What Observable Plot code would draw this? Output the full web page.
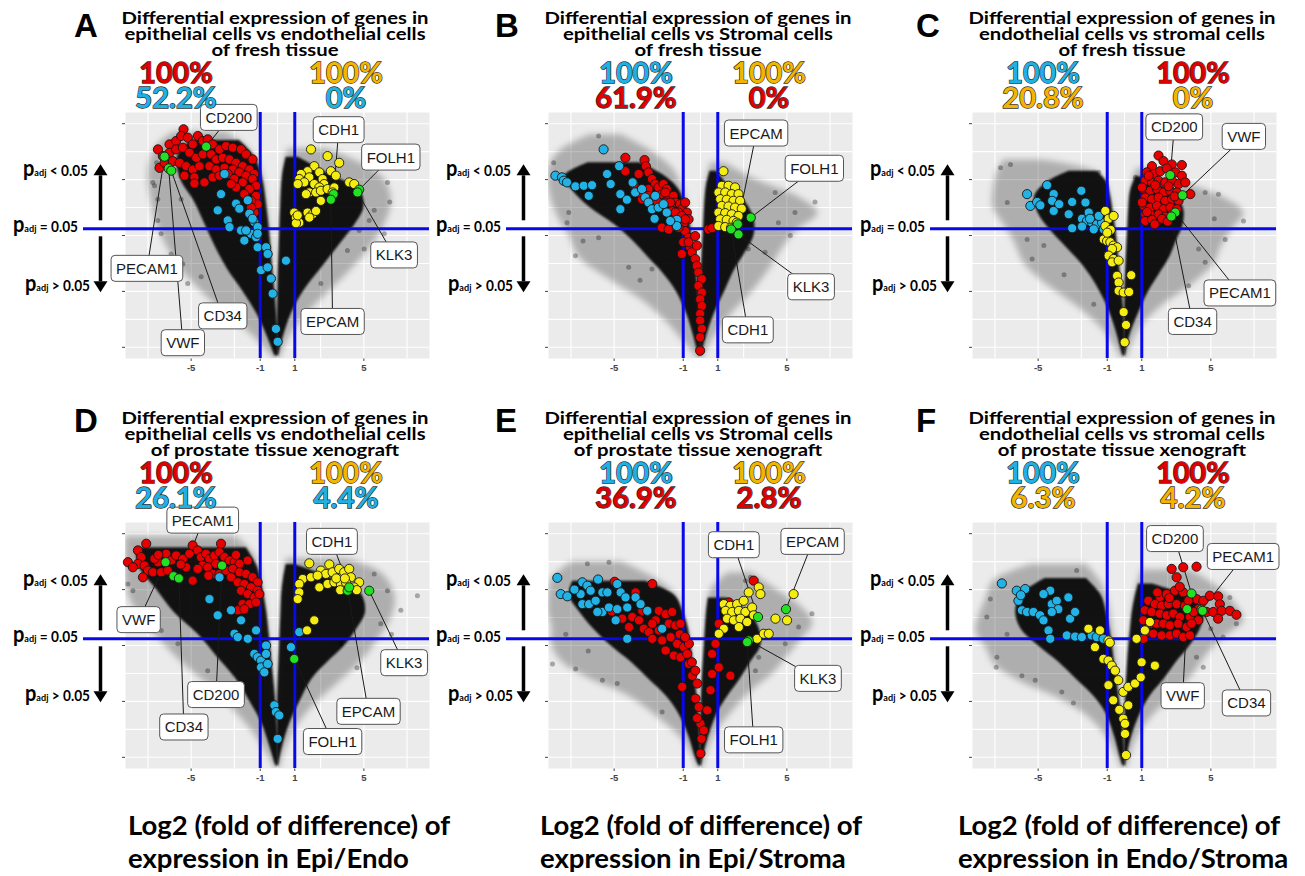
<!DOCTYPE html>
<html><head><meta charset="utf-8">
<script src="https://cdn.jsdelivr.net/npm/d3@7"></script>
<script src="https://cdn.jsdelivr.net/npm/@observablehq/plot@0.6"></script>
<style>
html,body{margin:0;padding:0;background:#fff;}
#root{position:relative;width:1305px;height:876px;overflow:hidden;background:#fff;}
.panel{position:absolute;}
</style></head><body><div id="root"></div>
<script>
// ---------------- DATA ----------------
const panelIds = ["A","B","C","D","E","F"];
const titles = [
  ["Differential expression of genes in","epithelial cells vs endothelial cells","of fresh tissue"],
  ["Differential expression of genes in","epithelial cells vs Stromal cells","of fresh tissue"],
  ["Differential expression of genes in","endothelial cells vs stromal cells","of fresh tissue"],
  ["Differential expression of genes in","epithelial cells vs endothelial cells","of prostate tissue xenograft"],
  ["Differential expression of genes in","epithelial cells vs Stromal cells","of prostate tissue xenograft"],
  ["Differential expression of genes in","endothelial cells vs stromal cells","of prostate tissue xenograft"]
];
// [text, group] ; left pair then right pair
const pctLeft = [
  [["100%","red"],["52.2%","blue"]],
  [["100%","blue"],["61.9%","red"]],
  [["100%","blue"],["20.8%","gold"]],
  [["100%","red"],["26.1%","blue"]],
  [["100%","blue"],["36.9%","red"]],
  [["100%","blue"],["6.3%","gold"]]
];
const pctRight = [
  [["100%","gold"],["0%","blue"]],
  [["100%","gold"],["0%","red"]],
  [["100%","red"],["0%","gold"]],
  [["100%","gold"],["4.4%","blue"]],
  [["100%","gold"],["2.8%","red"]],
  [["100%","red"],["4.2%","gold"]]
];
const captions = [
  ["Log2 (fold of difference) of","expression in Epi/Endo"],
  ["Log2 (fold of difference) of","expression in Epi/Stroma"],
  ["Log2 (fold of difference) of","expression in Endo/Stroma"]
];
const padjTexts = ["< 0.05","= 0.05","> 0.05"];
const xTicks = [-5,-1,1,5];
const yTicks = [0,1,2,3,4];
const gridX = [-7.5,-5,-2.5,0,2.5,5,7.5];
const gridY = [0,0.5,1,1.5,2,2.5,3,3.5,4];
const PADJ = 2.12;
const XDOM = [-8.8, 8.8];
const YDOM = [-0.2, 4.2];

// cloud envelopes: [y, xLeft, xRight]
const A_lo = [[3.85,-6.0,-3.0],[3.6,-7.0,-1.8],[3.3,-7.4,-1.1],[3.0,-7.5,-0.8],[2.6,-7.3,-0.6],[2.2,-7.0,-0.45],[1.8,-6.4,-0.35],[1.4,-5.6,-0.25],[1.0,-4.4,-0.12],[0.6,-3.0,-0.02],[0.2,-1.4,0.02],[-0.2,-0.2,0.05]];
const A_lc = [[3.7,-5.0,-2.2],[3.4,-5.8,-1.3],[3.0,-5.6,-0.85],[2.6,-4.8,-0.65],[2.2,-4.2,-0.5],[1.8,-3.6,-0.38],[1.4,-2.9,-0.28],[1.0,-2.0,-0.15],[0.6,-1.2,-0.05],[0.2,-0.6,0.03],[-0.15,-0.15,0.05]];
const A_ro = [[3.55,0.6,2.8],[3.3,0.4,4.8],[3.0,0.3,6.2],[2.6,0.2,6.6],[2.2,0.15,6.2],[1.8,0.1,5.4],[1.4,0.05,4.3],[1.0,0.0,3.0],[0.6,-0.02,1.7],[0.2,-0.05,0.7],[-0.2,-0.05,0.1]];
const A_rc = [[3.4,0.5,1.2],[3.1,0.3,3.0],[2.8,0.22,4.8],[2.5,0.18,5.0],[2.2,0.14,4.5],[1.8,0.1,3.5],[1.4,0.05,2.5],[1.0,0.02,1.5],[0.6,0.0,0.8],[0.2,-0.02,0.35],[-0.15,0,0.05]];
const A_out = [[6.37,2.95],[5.31,2.27],[4.73,2.09],[6.18,2.03],[4.05,1.73],[-6.93,2.27],[-6.74,2.03],[-6.16,1.67],[-5.48,1.49],[-5.20,1.14],[-4.42,1.26],[-7.22,2.95],[-6.93,2.65],[5.02,1.76],[5.60,2.45],[-3.65,0.72],[2.51,1.14],[-7.12,2.89],[-5.58,2.65],[6.5,2.6],[-7.0,3.3]];
const A_red = [[-5.44,3.90],[-6.25,3.63],[-5.87,3.69],[-5.58,3.78],[-5.19,3.75],[-4.90,3.63],[-4.61,3.78],[-4.32,3.69],[-4.04,3.72],[-3.75,3.63],[-3.36,3.54],[-2.98,3.60],[-2.59,3.57],[-2.11,3.54],[-1.82,3.45],[-1.44,3.36],[-6.92,3.54],[-6.64,3.42],[-6.25,3.48],[-5.87,3.54],[-5.48,3.57],[-5.10,3.48],[-4.71,3.39],[-4.32,3.45],[-3.84,3.45],[-3.55,3.36],[-3.17,3.39],[-2.78,3.36],[-2.40,3.30],[-2.01,3.24],[-1.63,3.18],[-1.34,3.10],[-6.83,3.21],[-6.54,3.30],[-6.06,3.33],[-5.67,3.30],[-5.29,3.24],[-4.90,3.18],[-4.52,3.24],[-3.94,3.24],[-3.55,3.18],[-3.07,3.21],[-2.59,3.18],[-2.21,3.13],[-1.82,3.07],[-1.44,3.01],[-1.24,2.89],[-5.39,3.07],[-4.81,3.04],[-4.23,2.95],[-4.81,2.93],[-3.75,3.04],[-3.36,3.07],[-2.88,3.10],[-2.50,3.01],[-2.01,2.95],[-1.63,2.83],[-1.24,2.71],[-1.15,2.56],[-1.53,2.62],[-1.92,2.74],[-2.40,2.86],[-2.69,2.92],[-1.34,2.41],[-1.53,2.50]];
const A_blue = [[-3.07,3.10],[-3.27,2.74],[-3.46,2.45],[-2.88,2.27],[-2.78,2.15],[-2.40,2.57],[-2.21,2.48],[-1.72,2.63],[-1.63,2.39],[-1.34,2.24],[-1.15,2.15],[-2.11,2.09],[-1.92,1.91],[-1.53,2.03],[-1.24,1.97],[-1.15,1.79],[-0.66,1.79],[-0.57,1.67],[-0.95,1.38],[-0.57,1.43],[0.49,1.55],[-0.38,1.23],[-0.28,0.96],[-0.09,0.33],[0.01,0.10],[-1.15,2.03],[-1.44,2.30],[-1.82,2.09]];
const A_yellow = [[1.94,3.54],[2.90,3.42],[3.57,3.30],[2.13,3.24],[1.74,3.15],[2.42,3.13],[1.36,3.10],[3.09,3.15],[3.38,3.07],[1.26,3.01],[1.84,3.04],[1.55,2.95],[1.17,2.92],[2.61,3.01],[2.13,2.92],[2.70,2.92],[2.42,2.86],[1.84,2.77],[1.65,2.74],[2.23,2.77],[2.51,2.80],[2.90,2.83],[3.29,2.86],[3.19,2.77],[2.51,2.62],[4.15,2.95],[4.44,2.92],[0.97,2.41],[1.07,2.32],[1.26,2.23],[1.74,2.41],[2.03,2.38],[2.23,2.44],[1.84,2.32],[1.07,2.22],[1.17,2.36]];
const A_green = [[-4.13,3.59],[-6.54,3.41],[-6.3,3.2],[-6.15,3.16],[3.25,2.74],[3.09,2.64],[4.73,2.82],[4.63,2.77]];
const A_genes = [["CD200",-4.13,3.59,-2.82,4.10],["PECAM1",-6.54,3.41,-7.56,1.40],["VWF",-6.3,3.2,-5.48,0.07],["CD34",-6.15,3.16,-3.17,0.55],["CDH1",3.25,2.74,3.54,3.88],["FOLH1",4.73,2.82,6.56,3.39],["KLK3",4.63,2.77,6.75,1.64],["EPCAM",3.09,2.64,3.19,0.45]];

const B_lo = [[3.8,-6.4,-4.6],[3.5,-8.2,-2.8],[3.2,-8.8,-1.6],[2.9,-8.8,-1.1],[2.6,-8.6,-0.8],[2.3,-8.2,-0.6],[2.0,-7.6,-0.45],[1.6,-7.0,-0.3],[1.2,-5.2,-0.18],[0.8,-3.2,-0.08],[0.4,-1.8,0.0],[0.0,-0.7,0.05],[-0.2,-0.15,0.05]];
const B_lc = [[3.3,-6.5,-3.5],[3.05,-7.9,-2.0],[2.8,-7.4,-1.2],[2.5,-6.4,-0.85],[2.2,-5.0,-0.6],[1.9,-3.9,-0.45],[1.6,-3.0,-0.32],[1.3,-2.1,-0.22],[1.0,-1.4,-0.12],[0.6,-0.8,-0.04],[0.2,-0.4,0.02],[-0.15,-0.1,0.04]];
const B_ro = [[3.3,0.6,1.4],[3.0,0.35,3.2],[2.7,0.25,5.6],[2.4,0.2,6.8],[2.1,0.15,5.6],[1.8,0.1,4.8],[1.4,0.05,4.0],[1.0,0.0,3.0],[0.6,-0.02,1.8],[0.2,-0.04,0.8],[-0.2,-0.05,0.1]];
const B_rc = [[3.15,0.55,0.95],[2.9,0.35,1.6],[2.6,0.25,2.6],[2.3,0.2,3.1],[2.0,0.15,3.1],[1.7,0.1,2.6],[1.4,0.06,2.0],[1.0,0.02,1.4],[0.6,0.0,0.8],[0.2,-0.02,0.35],[-0.15,0,0.05]];
const B_out = [[-5.9,3.78],[-7.63,2.41],[-7.73,2.23],[-7.24,1.64],[-5.90,1.96],[-4.16,1.43],[4.32,2.77],[5.47,2.41],[6.63,2.60],[4.51,2.23],[2.77,1.76],[3.74,1.70],[-2.81,1.40],[-8.5,3.3],[-6.8,1.9],[5.2,2.0],[-3.5,1.2]];
const B_red = [[-4.35,3.39],[-4.35,3.15],[-3.24,3.35],[-3.16,3.24],[-3.01,3.13],[-3.58,3.10],[-3.68,2.83],[-3.39,2.65],[-2.81,3.01],[-2.62,2.92],[-2.43,2.86],[-2.14,2.92],[-1.95,2.83],[-2.24,2.74],[-1.85,2.68],[-1.56,2.71],[-1.46,2.59],[-1.18,2.56],[-1.08,2.47],[-0.89,2.59],[-0.79,2.41],[-0.69,2.29],[-1.0,2.20],[-2.24,2.14],[-1.56,2.17],[-0.89,2.08],[-0.69,1.96],[-1.0,1.88],[-0.60,1.79],[-0.50,1.70],[-0.69,1.88],[-1.08,1.67],[-0.31,1.58],[-0.21,1.46],[-0.12,1.34],[0.08,1.22],[-0.12,1.10],[0.08,0.98],[-0.02,0.86],[0.08,0.74],[-0.02,0.60],[-0.02,0.48],[0.08,0.33],[-0.02,0.18],[-0.02,-0.06],[0.46,2.11],[0.66,2.13],[-2.04,2.59],[-1.66,2.44],[-3.01,2.83],[-1.27,2.41],[-3.87,2.92],[-3.58,2.77],[-3.01,2.71],[-2.52,2.62],[-2.04,2.77],[-1.75,2.59],[-1.46,2.41],[-1.08,2.35],[-0.89,2.29],[-1.27,2.14],[-1.85,2.11],[-0.31,1.99],[-0.21,1.82]];
const B_blue = [[-5.61,3.54],[-8.40,3.07],[-8.02,3.04],[-7.92,2.98],[-7.73,2.95],[-7.24,2.88],[-6.76,2.89],[-6.28,2.90],[-6.47,2.71],[-5.41,3.10],[-5.20,2.92],[-4.71,3.24],[-4.64,2.74],[-4.26,2.64],[-4.64,2.47],[-3.93,2.95],[-3.78,2.77],[-3.39,2.83],[-3.20,2.68],[-3.01,2.59],[-2.62,2.71],[-2.81,2.47],[-2.43,2.50],[-2.14,2.56],[-1.95,2.41],[-2.66,2.30],[-1.37,2.28],[-1.37,2.17],[-1.75,2.26]];
const B_yellow = [[1.33,3.15],[1.23,2.89],[1.62,2.89],[2.0,2.86],[1.04,2.77],[1.43,2.77],[1.81,2.74],[2.20,2.74],[1.14,2.65],[1.52,2.64],[1.91,2.62],[2.29,2.62],[1.23,2.53],[1.62,2.52],[2.0,2.50],[2.39,2.48],[1.04,2.41],[1.43,2.40],[1.81,2.38],[2.20,2.35],[1.14,2.29],[1.52,2.28],[1.91,2.26],[1.04,2.17],[1.43,2.15],[1.77,2.14],[2.10,2.23]];
const B_green = [[2.16,2.20],[1.77,2.11],[2.20,2.02],[2.91,2.32]];
const B_genes = [["EPCAM",2.16,2.20,3.22,3.82],["FOLH1",2.91,2.32,6.59,3.19],["KLK3",2.20,2.02,6.40,1.07],["CDH1",1.77,2.11,2.74,0.30]];

const C_lo = [[3.35,-7.0,-4.8],[3.1,-7.4,-1.4],[2.8,-7.6,-0.95],[2.5,-7.6,-0.7],[2.2,-7.0,-0.55],[1.9,-6.4,-0.42],[1.5,-5.8,-0.3],[1.1,-4.4,-0.18],[0.7,-2.6,-0.06],[0.3,-1.2,0.0],[-0.2,-0.15,0.05]];
const C_lc = [[3.15,-3.2,-1.6],[2.95,-4.5,-1.0],[2.7,-5.2,-0.8],[2.4,-5.0,-0.65],[2.1,-4.3,-0.5],[1.8,-3.4,-0.4],[1.5,-2.5,-0.3],[1.2,-1.8,-0.2],[0.8,-1.1,-0.08],[0.4,-0.6,0.0],[-0.15,-0.1,0.04]];
const C_ro = [[3.2,0.7,1.3],[3.0,0.5,2.8],[2.7,0.3,5.6],[2.4,0.25,6.9],[2.1,0.2,6.2],[1.8,0.15,5.6],[1.5,0.1,5.2],[1.1,0.03,3.8],[0.7,0.0,2.0],[0.3,-0.02,0.8],[-0.2,-0.04,0.1]];
const C_rc = [[3.05,0.65,1.0],[2.8,0.35,2.6],[2.5,0.25,3.4],[2.2,0.2,3.4],[1.9,0.15,3.0],[1.6,0.1,2.6],[1.3,0.05,2.0],[1.0,0.02,1.4],[0.6,0.0,0.8],[0.2,-0.02,0.3],[-0.15,0,0.05]];
const C_out = [[-7.18,3.21],[-6.60,3.27],[-6.79,2.59],[-5.64,1.93],[-5.35,1.58],[-4.67,1.82],[-1.49,3.13],[0.63,3.04],[4.67,2.77],[5.44,2.74],[6.89,2.26],[5.83,1.93],[4.67,1.52],[3.71,1.10],[4.29,1.76],[-1.78,0.77],[-3.5,1.3],[5.2,2.3]];
const C_red = [[1.97,3.43],[2.26,3.33],[2.74,3.27],[3.32,3.26],[1.59,3.24],[1.30,3.13],[1.69,3.10],[2.07,3.15],[2.94,3.13],[3.32,3.07],[1.20,2.98],[1.59,2.95],[1.97,2.98],[2.36,2.95],[2.75,2.98],[3.13,2.92],[3.52,2.95],[1.11,2.83],[1.49,2.80],[1.88,2.83],[2.26,2.77],[2.65,2.80],[3.03,2.77],[3.81,2.74],[1.20,2.68],[1.59,2.65],[1.97,2.68],[2.36,2.62],[2.75,2.65],[3.13,2.62],[1.11,2.53],[1.49,2.50],[1.88,2.53],[2.26,2.47],[2.65,2.50],[3.03,2.47],[1.20,2.38],[1.59,2.35],[1.97,2.38],[2.36,2.34],[2.75,2.38],[1.20,2.26],[1.59,2.28],[2.17,2.30],[1.01,2.59],[1.01,2.86],[1.40,3.07],[2.45,3.20],[1.78,2.90],[2.55,2.88],[2.9,2.7],[1.3,2.42],[1.75,2.2],[2.5,2.25]];
const C_blue = [[-5.64,2.74],[-5.45,2.53],[-5.06,2.60],[-4.87,2.54],[-4.48,2.90],[-4.10,2.74],[-4.19,2.62],[-4.10,2.44],[-3.78,2.56],[-3.23,2.38],[-3.03,2.60],[-2.50,2.80],[-2.26,2.59],[-2.46,2.30],[-2.07,2.41],[-2.17,2.26],[-1.88,2.23],[-1.59,2.20],[-1.30,2.23],[-1.78,2.11],[-1.20,2.11],[-3.03,2.13],[-2.46,2.16],[-1.49,2.35],[-2.0,2.3]];
const C_yellow = [[-1.11,2.44],[-0.92,2.30],[-0.63,2.35],[-1.11,2.17],[-1.20,1.93],[-1.01,1.90],[-0.82,1.88],[-0.63,1.82],[-0.43,1.79],[-0.72,1.76],[-0.92,1.64],[-0.63,1.58],[-0.72,1.52],[-0.34,1.55],[-0.43,1.28],[-0.34,1.16],[0.39,1.29],[-0.34,1.01],[-0.05,0.98],[0.27,0.99],[-0.05,0.63],[0.09,0.40],[0.01,0.09],[-0.8,2.1],[-1.0,2.05]];
const C_green = [[2.65,3.08],[3.36,2.72],[2.94,2.41],[2.71,2.34]];
const C_genes = [["CD200",2.65,3.08,2.88,3.93],["VWF",3.36,2.72,6.91,3.76],["PECAM1",2.94,2.41,6.68,0.96],["CD34",2.71,2.34,3.94,0.45]];

const D_lo = [[3.95,-8.8,-2.4],[3.6,-8.8,-1.3],[3.2,-8.8,-0.95],[2.8,-8.5,-0.7],[2.4,-7.6,-0.55],[2.0,-6.5,-0.4],[1.6,-5.2,-0.28],[1.2,-3.6,-0.15],[0.8,-2.4,-0.06],[0.4,-1.3,0.0],[0.0,-0.5,0.04],[-0.2,-0.1,0.04]];
const D_lc = [[3.75,-8.2,-1.8],[3.4,-8.0,-1.15],[3.0,-7.0,-0.85],[2.6,-6.0,-0.62],[2.2,-4.6,-0.48],[1.8,-3.5,-0.35],[1.4,-2.4,-0.22],[1.0,-1.6,-0.1],[0.6,-0.9,-0.02],[0.2,-0.45,0.03],[-0.15,-0.1,0.04]];
const D_ro = [[3.55,0.5,4.0],[3.3,0.4,6.0],[2.9,0.28,6.8],[2.5,0.2,6.6],[2.1,0.15,5.8],[1.7,0.1,4.8],[1.3,0.05,3.4],[0.9,0.0,2.0],[0.5,-0.02,1.0],[0.1,-0.04,0.4],[-0.2,-0.04,0.08]];
const D_rc = [[3.45,0.5,1.0],[3.2,0.35,3.2],[2.95,0.25,4.8],[2.6,0.2,5.1],[2.3,0.16,4.6],[2.0,0.12,3.9],[1.7,0.08,2.9],[1.4,0.04,2.0],[1.0,0.0,1.3],[0.6,-0.01,0.7],[0.2,-0.02,0.3],[-0.15,0,0.05]];
const D_out = [[8.10,2.89],[5.60,3.28],[6.37,2.98],[7.14,2.63],[5.98,2.39],[-8.66,3.10],[-8.37,2.98],[-6.73,2.27],[-5.77,2.03],[-4.04,1.55],[3.67,2.03],[-7.6,2.6],[6.6,2.2],[4.6,1.6],[-3.0,1.1]];
const D_red = [[-8.66,3.49],[-8.08,3.70],[-7.89,3.58],[-8.08,3.46],[-7.70,3.43],[-7.50,3.34],[-7.79,3.22],[-7.21,3.31],[-6.92,3.49],[-6.73,3.31],[-6.44,3.64],[-6.15,3.52],[-6.35,3.34],[-5.87,3.61],[-5.48,3.55],[-5.10,3.64],[-4.91,3.79],[-5.29,3.40],[-4.91,3.16],[-4.62,3.70],[-4.43,3.58],[-4.14,3.64],[-3.94,3.55],[-3.65,3.61],[-4.33,3.43],[-4.62,3.37],[-4.04,3.40],[-3.56,3.46],[-3.27,3.82],[-3.36,3.67],[-3.07,3.58],[-2.78,3.52],[-2.49,3.49],[-2.20,3.46],[-1.72,3.52],[-3.75,3.28],[-3.36,3.28],[-2.97,3.34],[-2.59,3.37],[-2.20,3.31],[-1.82,3.28],[-1.44,3.22],[-1.15,3.13],[-2.69,3.22],[-2.30,3.13],[-1.92,3.10],[-1.53,3.04],[-1.15,2.98],[-2.11,2.98],[-1.72,2.92],[-1.34,2.86],[-1.05,2.92],[-2.02,2.74],[-1.63,2.74],[-1.24,2.77],[-2.30,2.63],[-1.92,2.65],[-8.37,3.40],[-7.12,3.55],[-5.6,3.45],[-6.9,3.62],[-4.0,3.25],[-2.4,3.62],[-7.6,3.82]];
const D_blue = [[-3.36,3.22],[-3.94,2.83],[-3.46,2.54],[-2.69,2.63],[-2.11,2.45],[-2.49,2.21],[-2.30,2.15],[-1.72,2.12],[-1.24,2.27],[-1.34,1.85],[-1.15,1.79],[-0.95,1.73],[-0.66,2.0],[-0.66,1.85],[-0.95,1.61],[-0.57,1.67],[-0.76,1.52],[-0.18,0.93],[-0.09,0.81],[0.10,0.75],[0.01,0.33],[0.78,1.97],[1.26,2.24]];
const D_yellow = [[1.84,3.47],[3.0,3.45],[2.51,3.34],[2.80,3.28],[3.19,3.31],[3.57,3.37],[3.86,3.31],[4.15,3.37],[4.25,3.22],[4.73,3.13],[1.46,3.19],[1.94,3.22],[2.32,3.25],[1.26,3.10],[1.26,2.95],[1.17,2.83],[2.42,3.04],[2.90,3.10],[3.29,3.13],[3.67,3.10],[3.96,3.13],[3.63,2.99],[4.44,3.04],[4.59,2.99],[2.13,2.45],[1.71,2.27],[3.4,3.2],[3.9,3.2]];
const D_green = [[-6.48,3.49],[-6.02,3.24],[-5.71,3.20],[-3.21,3.43],[5.31,2.98],[4.06,2.98],[4.15,3.04],[0.97,1.76]];
const D_genes = [["PECAM1",-4.91,3.76,-4.33,4.23],["VWF",-6.48,3.49,-8.04,2.45],["CD200",-3.21,3.43,-3.56,1.11],["CD34",-5.71,3.20,-5.42,0.53],["CDH1",4.15,3.04,3.15,3.85],["KLK3",5.31,2.98,7.33,1.68],["EPCAM",4.06,2.98,5.27,0.81],["FOLH1",0.97,1.76,3.19,0.27]];

const E_lo = [[3.5,-7.4,-4.6],[3.2,-8.6,-2.6],[2.9,-8.8,-1.4],[2.6,-8.8,-1.0],[2.3,-8.6,-0.75],[2.0,-8.6,-0.55],[1.7,-8.0,-0.45],[1.4,-6.4,-0.32],[1.1,-4.2,-0.2],[0.7,-2.4,-0.08],[0.3,-1.0,0.0],[-0.2,-0.15,0.04]];
const E_lc = [[3.15,-7.4,-3.2],[2.9,-7.6,-1.5],[2.6,-7.0,-1.0],[2.3,-6.2,-0.7],[2.0,-5.2,-0.55],[1.7,-4.0,-0.42],[1.4,-3.0,-0.3],[1.1,-2.0,-0.2],[0.8,-1.3,-0.1],[0.4,-0.7,-0.02],[0.0,-0.3,0.03],[-0.15,-0.1,0.04]];
const E_ro = [[3.3,1.6,3.0],[3.0,0.6,4.4],[2.7,0.4,5.8],[2.4,0.3,6.5],[2.1,0.22,5.8],[1.8,0.16,5.0],[1.5,0.1,4.2],[1.2,0.05,3.0],[0.8,0.0,1.8],[0.4,-0.02,0.8],[-0.2,-0.04,0.1]];
const E_rc = [[2.85,0.45,1.5],[2.6,0.35,2.8],[2.3,0.28,3.4],[2.0,0.22,3.5],[1.7,0.16,2.9],[1.4,0.1,2.3],[1.1,0.06,1.6],[0.8,0.02,1.0],[0.4,0.0,0.5],[0.0,-0.01,0.15],[-0.15,0,0.05]];
const E_out = [[-8.57,1.67],[-5.68,1.38],[-4.82,1.32],[-2.22,0.81],[-6.55,3.46],[-5.30,3.49],[2.60,3.16],[2.89,3.22],[6.45,2.57],[5.68,2.33],[4.91,2.03],[3.37,1.79],[3.18,1.55],[-7.23,1.58],[-7.8,2.2],[-6.5,1.9]];
const E_red = [[-4.97,3.14],[-2.79,3.10],[-3.76,2.95],[-5.14,2.61],[-4.53,2.48],[-4.14,2.33],[-3.95,2.51],[-3.56,2.45],[-3.28,2.30],[-2.99,2.24],[-2.60,2.45],[-2.41,2.62],[-2.02,2.56],[-1.64,2.60],[-1.83,2.39],[-1.45,2.36],[-1.16,2.39],[-2.79,2.12],[-2.22,2.09],[-1.73,2.15],[-1.35,2.03],[-0.96,1.97],[-0.67,2.03],[-2.02,1.91],[-1.54,1.82],[-1.16,1.79],[-0.77,1.85],[-1.06,1.26],[-0.67,1.67],[-0.48,1.46],[-0.19,1.32],[-0.29,1.05],[-0.10,0.90],[0,0.60],[0.06,0.33],[0,0.07],[0.19,0.48],[0.39,0.84],[0.58,1.20],[0.67,1.49],[0.67,1.85],[0.87,2.03],[1.06,2.39],[1.64,2.77],[1.73,1.46],[1.06,1.61],[3.08,3.16],[-2.79,2.39],[-2.41,2.27],[-3.37,2.62],[-1.2,2.2],[-0.9,2.15],[-0.5,1.7],[-0.3,1.55],[-0.2,0.7]];
const E_blue = [[-8.29,3.21],[-8.09,2.92],[-7.71,2.88],[-6.84,3.13],[-6.55,3.07],[-5.93,3.18],[-5.68,2.95],[-5.39,2.95],[-4.82,3.10],[-4.62,2.95],[-6.36,2.98],[-6.94,2.92],[-6.84,2.74],[-6.45,2.74],[-6.07,2.80],[-5.68,2.60],[-5.30,2.68],[-4.82,2.65],[-5.97,2.60],[-4.91,2.45],[-4.34,2.86],[-4.24,2.68],[-3.76,2.86],[-3.47,2.74],[-3.08,2.62],[-2.22,2.30],[-4.24,2.12],[-7.3,3.0]];
const E_yellow = [[2.79,2.95],[3.37,3.04],[3.47,2.92],[1.35,2.74],[1.73,2.71],[2.12,2.74],[2.50,2.80],[1.45,2.62],[1.83,2.60],[2.22,2.62],[2.60,2.60],[2.99,2.68],[1.54,2.48],[1.93,2.45],[2.31,2.48],[2.70,2.42],[2.22,2.33],[1.35,2.30],[1.06,2.21],[3.28,2.12],[3.66,2.21],[3.95,2.21],[4.34,2.48],[5.01,2.45],[5.39,2.92],[3.08,2.54]];
const E_green = [[3.33,2.51],[4.95,2.65],[2.79,2.09],[2.70,2.06]];
const E_genes = [["CDH1",3.33,2.51,1.93,3.79],["EPCAM",4.95,2.65,6.49,3.85],["KLK3",2.79,2.09,6.80,1.40],["FOLH1",2.70,2.06,3.08,0.30]];

const F_lo = [[3.45,-5.4,-2.2],[3.15,-7.6,-1.4],[2.85,-8.0,-1.0],[2.55,-8.4,-0.8],[2.25,-8.6,-0.65],[1.95,-8.0,-0.52],[1.65,-7.5,-0.42],[1.35,-6.0,-0.32],[1.05,-3.8,-0.22],[0.7,-2.0,-0.1],[0.3,-0.9,0.0],[-0.2,-0.15,0.04]];
const F_lc = [[3.2,-4.6,-2.2],[2.9,-6.0,-1.35],[2.6,-6.3,-1.05],[2.3,-6.0,-0.85],[2.0,-5.0,-0.7],[1.7,-3.8,-0.58],[1.4,-2.8,-0.45],[1.1,-1.8,-0.32],[0.8,-1.1,-0.18],[0.4,-0.6,-0.05],[0.0,-0.25,0.02],[-0.15,-0.1,0.04]];
const F_ro = [[3.35,1.0,3.8],[3.05,0.7,5.4],[2.75,0.5,6.4],[2.45,0.4,6.9],[2.15,0.3,5.8],[1.85,0.22,4.8],[1.5,0.15,4.0],[1.15,0.08,3.0],[0.8,0.02,1.8],[0.4,-0.02,0.8],[-0.2,-0.04,0.1]];
const F_rc = [[3.1,0.8,1.6],[2.85,0.6,3.8],[2.6,0.45,4.6],[2.3,0.35,4.4],[2.0,0.25,3.8],[1.7,0.18,3.0],[1.4,0.12,2.3],[1.1,0.06,1.5],[0.7,0.02,0.8],[0.3,0.0,0.35],[-0.15,0,0.05]];
const F_out = [[-7.39,1.79],[-7.43,1.61],[-5.94,1.46],[-5.17,1.38],[-3.63,1.17],[-2.96,0.97],[-7.97,2.51],[-7.77,2.83],[6.48,2.39],[6.10,2.86],[5.71,2.15],[4.17,1.79],[4.56,1.61],[-2.77,3.34],[-6.8,2.2],[5.0,2.3]];
const F_red = [[2.73,3.37],[3.40,3.40],[4.17,3.41],[3.02,3.22],[2.05,2.86],[2.44,2.92],[2.92,2.98],[3.40,2.95],[4.17,2.83],[4.56,2.80],[4.94,2.89],[5.42,2.88],[5.52,2.74],[1.38,2.80],[1.76,2.74],[2.15,2.71],[2.54,2.74],[3.02,2.74],[3.50,2.71],[4.27,2.65],[4.75,2.60],[5.14,2.60],[5.62,2.62],[6.10,2.62],[6.48,2.55],[5.42,2.48],[1.18,2.63],[1.57,2.60],[2.05,2.57],[2.44,2.54],[2.83,2.57],[3.21,2.51],[3.79,2.51],[4.27,2.45],[1.09,2.45],[1.47,2.39],[1.86,2.39],[2.25,2.39],[2.63,2.36],[3.11,2.39],[3.60,2.33],[3.88,2.39],[1.28,2.24],[1.67,2.21],[2.15,2.18],[2.63,2.18],[3.02,2.21],[3.40,2.15],[3.79,2.18],[1.09,2.12],[3.7,2.8],[3.2,3.05],[2.6,2.85],[4.0,2.6],[1.9,2.95]];
const F_blue = [[-7.10,3.11],[-6.24,2.98],[-5.75,3.01],[-6.14,2.80],[-5.94,2.63],[-5.65,2.60],[-5.27,2.60],[-4.89,2.54],[-4.69,2.45],[-4.30,2.98],[-4.69,2.92],[-4.21,2.74],[-3.92,2.80],[-3.83,2.65],[-4.21,2.60],[-3.25,2.86],[-3.15,2.48],[-2.86,2.60],[-4.40,2.27],[-4.30,2.12],[-3.34,2.18],[-2.86,2.16],[-2.47,2.15],[-1.90,2.18],[-1.61,2.15],[-1.22,2.12],[-6.0,2.9]];
const F_yellow = [[-2.09,2.30],[-1.42,2.27],[-0.93,2.09],[-1.71,1.97],[-1.22,1.76],[-0.93,1.73],[-0.74,1.64],[-0.55,1.55],[-0.36,1.38],[-0.93,1.29],[-0.65,1.02],[-0.07,1.17],[0.22,1.26],[0.61,1.32],[0.94,1.43],[0.99,1.70],[1.76,1.64],[0.70,2.12],[1.18,2.27],[1.47,2.42],[0.22,0.93],[-0.07,0.69],[0.03,0.60],[0.03,0.42],[0.09,0.04],[-0.85,2.05],[-0.3,0.85]];
const F_green = [[3.88,2.93],[4.46,2.64],[3.63,2.65],[4.52,2.62]];
const F_genes = [["CD200",3.88,2.93,2.92,3.90],["PECAM1",4.46,2.64,6.87,3.58],["VWF",3.63,2.65,3.37,1.09],["CD34",4.52,2.62,7.06,0.96]];

// ---------------- LAYOUT / STYLE ----------------
const panels = [
  {lo:A_lo,lc:A_lc,ro:A_ro,rc:A_rc,out:A_out,red:A_red,blue:A_blue,yellow:A_yellow,green:A_green,genes:A_genes},
  {lo:B_lo,lc:B_lc,ro:B_ro,rc:B_rc,out:B_out,red:B_red,blue:B_blue,yellow:B_yellow,green:B_green,genes:B_genes},
  {lo:C_lo,lc:C_lc,ro:C_ro,rc:C_rc,out:C_out,red:C_red,blue:C_blue,yellow:C_yellow,green:C_green,genes:C_genes},
  {lo:D_lo,lc:D_lc,ro:D_ro,rc:D_rc,out:D_out,red:D_red,blue:D_blue,yellow:D_yellow,green:D_green,genes:D_genes},
  {lo:E_lo,lc:E_lc,ro:E_ro,rc:E_rc,out:E_out,red:E_red,blue:E_blue,yellow:E_yellow,green:E_green,genes:E_genes},
  {lo:F_lo,lc:F_lc,ro:F_ro,rc:F_rc,out:F_out,red:F_red,blue:F_blue,yellow:F_yellow,green:F_green,genes:F_genes}
];
const COL_GL = [125, 548, 972];
const ROW_GT = [112, 522];
const PW = 304, PH = 246, ML = 120, MR = 10, MT = 30, MB = 25;
const COLORS = {red:"#e60000", blue:"#22b2e6", yellow:"#f5ec12", green:"#22e022", line:"#0808ea"};
const PCT_COLORS = {red:"#e00000", blue:"#1fb0e4", gold:"#f3b500"};
const SVGNS = "http://www.w3.org/2000/svg";

const root = document.getElementById("root");
const lobe = a => a.map(([y,x1,x2]) => ({y,x1,x2}));
const pts = a => a.map(([x,y]) => ({x,y}));
const dotOpts = c => ({x:"x", y:"y", r:4.6, fill:c, stroke:"#151515", strokeWidth:0.9});

panels.forEach((P, i) => {
  const gl = COL_GL[i % 3], gt = ROW_GT[Math.floor(i / 3)];
  const genes = P.genes.map(([name,px,py,lx,ly]) => ({name,px,py,lx,ly}));
  const k = PW / (XDOM[1] - XDOM[0]);
  const xExt = XDOM[0] - 42 / k;
  const areaOpts = op => ({y: "y", x1: "x1", x2: "x2", fill: "#000", fillOpacity: op, curve: "catmull-rom"});
  const plot = Plot.plot({
    width: ML + PW + MR, height: MT + PH + MB,
    marginLeft: ML, marginRight: MR, marginTop: MT, marginBottom: MB,
    style: {background: "transparent", overflow: "visible", fontFamily: "'Liberation Sans', Arial, sans-serif", fontSize: "9.5px", fontWeight: "bold", color: "#444"},
    x: {domain: XDOM, ticks: xTicks, tickFormat: d => String(d), tickSize: 3, tickPadding: 3, label: null},
    y: {domain: YDOM, ticks: yTicks, tickFormat: () => "", tickSize: 3, label: null},
    marks: [
      Plot.frame({fill: "#ebebeb", stroke: "none"}),
      Plot.ruleX(gridX, {stroke: "#fff", strokeWidth: 1.1}),
      Plot.ruleY(gridY, {stroke: "#fff", strokeWidth: 1.1}),
      Plot.areaX(lobe(P.lo), areaOpts(0.26)),
      Plot.areaX(lobe(P.ro), areaOpts(0.26)),
      Plot.areaX(lobe(P.lc), areaOpts(0.9)),
      Plot.areaX(lobe(P.rc), areaOpts(0.9)),
      Plot.dot(pts(P.out), {x: "x", y: "y", r: 2.5, fill: "#000", fillOpacity: 0.3}),
      Plot.ruleX([-1, 1], {stroke: COLORS.line, strokeWidth: 3}),
      Plot.ruleY([{y: PADJ, x1: xExt, x2: XDOM[1]}], {y: "y", x1: "x1", x2: "x2", stroke: COLORS.line, strokeWidth: 3}),
      Plot.link(genes, {x1: "px", y1: "py", x2: "lx", y2: "ly", stroke: "#1a1a1a", strokeWidth: 1}),
      Plot.dot(pts(P.red), dotOpts(COLORS.red)),
      Plot.dot(pts(P.blue), dotOpts(COLORS.blue)),
      Plot.dot(pts(P.yellow), dotOpts(COLORS.yellow)),
      Plot.dot(pts(P.green), dotOpts(COLORS.green)),
      Plot.text(genes, {x: "lx", y: "ly", text: "name", fontSize: 15, fontFamily: "'Liberation Sans', Arial, sans-serif", fontWeight: "normal", fill: "#1a1a1a"})
    ]
  });
  const div = document.createElement("div");
  div.className = "panel";
  div.style.left = (gl - ML) + "px";
  div.style.top = (gt - MT) + "px";
  div.appendChild(plot);
  root.appendChild(div);

  // soft edges for the dense point cloud (blur, clipped to the panel)
  const svg = plot.tagName.toLowerCase() === "svg" ? plot : plot.querySelector("svg");
  const defs = document.createElementNS(SVGNS, "defs");
  defs.innerHTML =
    `<filter id="bo${i}" x="-20%" y="-20%" width="140%" height="140%"><feGaussianBlur stdDeviation="3"/></filter>` +
    `<filter id="bc${i}" x="-20%" y="-20%" width="140%" height="140%"><feGaussianBlur stdDeviation="1.3"/></filter>` +
    `<clipPath id="cp${i}"><rect x="${ML}" y="${MT}" width="${PW}" height="${PH}"/></clipPath>`;
  svg.insertBefore(defs, svg.firstChild);
  d3.select(svg).selectAll('g[aria-label="area"]').each(function(_, j) {
    this.setAttribute("filter", `url(#${j < 2 ? "bo" : "bc"}${i})`);
    this.setAttribute("clip-path", `url(#cp${i})`);
  });

  // label boxes behind gene names
  d3.select(svg).selectAll('g[aria-label="text"] text').each(function() {
    const b = this.getBBox();
    const r = document.createElementNS(SVGNS, "rect");
    const cy = b.y + b.height / 2;
    r.setAttribute("x", b.x - 5);
    r.setAttribute("y", cy - 13);
    r.setAttribute("width", b.width + 10);
    r.setAttribute("height", 26);
    r.setAttribute("rx", 4);
    r.setAttribute("fill", "#fff");
    r.setAttribute("stroke", "#555");
    r.setAttribute("stroke-width", 1);
    const t = this.getAttribute("transform");
    if (t) r.setAttribute("transform", t);
    this.parentNode.insertBefore(r, this);
  });
});

// ---------------- OVERLAY TEXT ----------------
const ov = d3.select(root).append("svg")
  .attr("width", 1305).attr("height", 876)
  .style("position", "absolute").style("left", "0px").style("top", "0px");

function fitLines(lines, x, baselines, anchor, size, weight, target) {
  const els = lines.map((s, j) => ov.append("text")
    .attr("x", x).attr("y", baselines[j]).attr("text-anchor", anchor)
    .attr("font-family", "Lato, 'Open Sans', sans-serif").attr("font-size", size)
    .attr("font-weight", weight).attr("fill", "#000").text(s));
  const w0 = els[0].node().getComputedTextLength();
  const f = target / w0;
  els.forEach(e => {
    const w = e.node().getComputedTextLength();
    e.attr("textLength", w * f).attr("lengthAdjust", "spacingAndGlyphs");
  });
}
const pctWidth = s => Array.from(s).reduce((a, c) => a + (c === "%" ? 24 : c === "." ? 8 : 16.5), 0);
function pct(s, group, cx, base) {
  ov.append("text").attr("x", cx).attr("y", base).attr("text-anchor", "middle")
    .attr("font-family", "Lato, 'Open Sans', sans-serif").attr("font-size", 28).attr("font-weight", 700)
    .attr("fill", PCT_COLORS[group]).attr("stroke", "#333").attr("stroke-width", 1.4)
    .attr("paint-order", "stroke").attr("textLength", pctWidth(s)).attr("lengthAdjust", "spacingAndGlyphs")
    .text(s);
}
function padj(x, y, s) {
  const t = ov.append("text").attr("x", x).attr("y", y)
    .attr("font-family", "Lato, 'Open Sans', sans-serif").attr("font-weight", 700).attr("fill", "#000");
  t.append("tspan").attr("font-size", 22).text("p");
  t.append("tspan").attr("font-size", 10).text("adj");
  t.append("tspan").attr("font-size", 15).text(" " + s);
  t.attr("textLength", 65).attr("lengthAdjust", "spacingAndGlyphs");
}
function arrow(x, yTail, yTip) {
  const dir = Math.sign(yTip - yTail), hl = 11, hw = 7;
  ov.append("line").attr("x1", x).attr("x2", x).attr("y1", yTail).attr("y2", yTip - dir * hl)
    .attr("stroke", "#000").attr("stroke-width", 3.5);
  ov.append("path").attr("d", `M${x - hw},${yTip - dir * hl}L${x + hw},${yTip - dir * hl}L${x},${yTip}Z`).attr("fill", "#000");
}

const LETTER_X = [74, 495, 916];
const PCT_LX = [51, 88, 71];
panelIds.forEach((id, i) => {
  const col = i % 3, row = Math.floor(i / 3);
  const gl = COL_GL[col], gt = ROW_GT[row];
  const off = row * 400;
  ov.append("text").attr("x", LETTER_X[col]).attr("y", 37 + (row ? 395 : 0))
    .attr("font-family", "'Liberation Sans', Arial, sans-serif").attr("font-weight", 700)
    .attr("font-size", 33).attr("fill", "#000").text(id);
  fitLines(titles[i], gl + 150, [24 + off, 40 + off, 56 + off], "middle", 17, 700, 307);
  pct(pctLeft[i][0][0], pctLeft[i][0][1], gl + PCT_LX[col], 83 + off);
  pct(pctLeft[i][1][0], pctLeft[i][1][1], gl + PCT_LX[col], 108 + off);
  pct(pctRight[i][0][0], pctRight[i][0][1], gl + 221, 83 + off);
  pct(pctRight[i][1][0], pctRight[i][1][1], gl + 221, 108 + off);
  const Ly = gt + (YDOM[1] - PADJ) / (YDOM[1] - YDOM[0]) * PH;
  padj(gl - 102, Ly - 52, padjTexts[0]);
  padj(gl - 112, Ly + 4, padjTexts[1]);
  padj(gl - 100, Ly + 63, padjTexts[2]);
  arrow(gl - 24.5, Ly - 8, Ly - 64);
  arrow(gl - 24.5, Ly + 8, Ly + 64);
});

const CAP_X = [128, 540, 958];
captions.forEach((c, j) => fitLines(c, CAP_X[j], [835, 868], "start", 27, 700, 322));
</script></body></html>
